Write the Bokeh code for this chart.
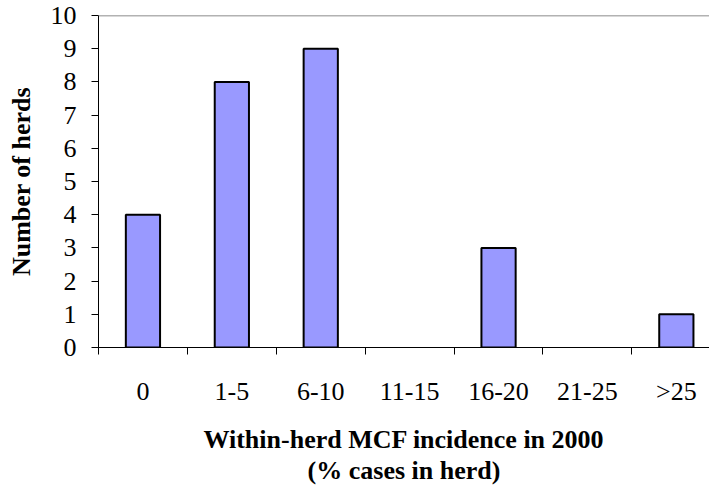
from bokeh.plotting import figure
from bokeh.models import Range1d, FixedTicker, Span
from bokeh.embed import file_html
from bokeh.resources import INLINE

categories = ["0", "1-5", "6-10", "11-15", "16-20", "21-25", ">25"]
herds = [4, 8, 9, 0, 3, 0, 1]
y_ticks = [0, 1, 2, 3, 4, 5, 6, 7, 8, 9, 10]

xs = list(range(len(categories)))
# zero-height bars are invisible in the original (no outline drawn on the axis)
bar_x = [x for x, h in zip(xs, herds) if h > 0]
bar_h = [h for h in herds if h > 0]

p = figure(width=709, height=493, output_backend="svg", toolbar_location=None,
           x_range=Range1d(-0.5, 6.373), y_range=Range1d(0, 10),
           min_border_left=98, min_border_right=0, min_border_top=15, min_border_bottom=146)
p.outline_line_color = None
p.grid.grid_line_color = None
p.background_fill_color = "white"

p.vbar(x=bar_x, top=bar_h, width=0.385, bottom=0, fill_color="#9999FF",
       line_color="black", line_width=2)

p.add_layout(Span(location=10, dimension="width", line_color="#666666", line_width=1.5))

font = "'Liberation Serif', 'Times New Roman', serif"

xa = p.xaxis[0]
xa.ticker = FixedTicker(ticks=xs, minor_ticks=[i - 0.5 for i in range(len(categories) + 1)])
xa.major_label_overrides = {i: c for i, c in zip(xs, categories)}
xa.major_tick_line_color = None
xa.major_tick_out = 7
xa.major_tick_in = 0
xa.minor_tick_line_color = "black"
xa.minor_tick_out = 7
xa.minor_tick_in = 0
xa.axis_line_color = "black"
xa.major_label_text_font = font
xa.major_label_text_font_size = "26px"
xa.major_label_text_color = "black"
xa.major_label_standoff = 22
xa.axis_label = "Within-herd MCF incidence in 2000\n(% cases in herd)"
xa.axis_label_text_font = font
xa.axis_label_text_font_size = "26px"
xa.axis_label_text_font_style = "bold"
xa.axis_label_text_color = "black"
xa.axis_label_text_line_height = 1.1
xa.axis_label_standoff = 16

ya = p.yaxis[0]
ya.ticker = FixedTicker(ticks=y_ticks, minor_ticks=[])
ya.major_tick_out = 7
ya.major_tick_in = 0
ya.major_tick_line_color = "black"
ya.axis_line_color = "black"
ya.major_label_text_font = font
ya.major_label_text_font_size = "26px"
ya.major_label_text_color = "black"
ya.major_label_standoff = 15
ya.axis_label = "Number of herds"
ya.axis_label_text_font = font
ya.axis_label_text_font_size = "26px"
ya.axis_label_text_font_style = "bold"
ya.axis_label_text_color = "black"
ya.axis_label_standoff = 12

open("out.html", "w").write(file_html(p, INLINE))
